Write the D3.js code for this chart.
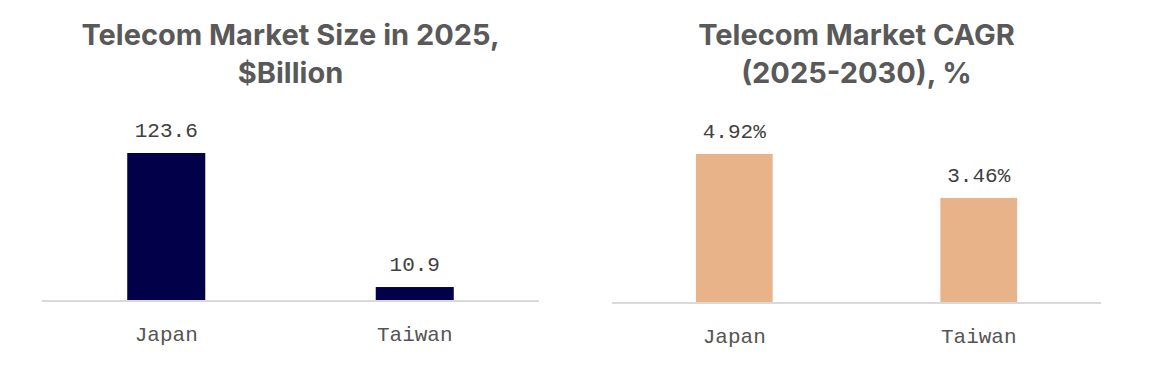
<!DOCTYPE html>
<html>
<head>
<meta charset="utf-8">
<script src="https://cdn.jsdelivr.net/npm/d3@7"></script>
<style>
  body { margin: 0; background: #fff; }
  svg { display: block; }
</style>
</head>
<body>
<svg width="1150" height="374"></svg>
<script>
// data
const countries = ["Japan", "Taiwan"];
const marketSize = [123.6, 10.9];
const cagr = [4.92, 3.46];

const svg = d3.select("svg");

function drawPanel(opts) {
  const g = svg.append("g");

  const x = d3.scaleBand()
    .domain(countries)
    .range([opts.x0, opts.x1])
    .paddingInner(0.686)
    .paddingOuter(0.343);

  const y = d3.scaleLinear()
    .domain([0, d3.max(opts.values)])
    .range([opts.base, opts.top]);

  const rows = countries.map((c, i) => ({ c: c, v: opts.values[i] }));

  // title
  const cx = (opts.x0 + opts.x1) / 2;
  g.selectAll(".title")
    .data(opts.title)
    .join("text")
    .attr("x", cx)
    .attr("y", (d, i) => 45 + i * 38)
    .attr("text-anchor", "middle")
    .attr("font-family", "Inter, 'Noto Sans', sans-serif")
    .attr("font-weight", 700)
    .attr("font-size", 29)
    .attr("fill", "#595959")
    .text(d => d);

  g.selectAll("rect")
    .data(rows)
    .join("rect")
    .attr("x", d => x(d.c))
    .attr("width", x.bandwidth())
    .attr("y", d => y(d.v))
    .attr("height", d => y(0) - y(d.v))
    .attr("fill", opts.color);

  // baseline
  g.append("line")
    .attr("x1", opts.x0)
    .attr("x2", opts.x1)
    .attr("y1", opts.base + 1)
    .attr("y2", opts.base + 1)
    .attr("stroke", "#d9d9d9")
    .attr("stroke-width", 2);

  g.selectAll(".val")
    .data(rows)
    .join("text")
    .attr("class", "val")
    .attr("x", d => x(d.c) + x.bandwidth() / 2)
    .attr("y", d => y(d.v) - 16)
    .attr("text-anchor", "middle")
    .attr("font-family", "'Liberation Mono', 'DejaVu Sans Mono', monospace")
    .attr("font-size", 21)
    .attr("fill", "#404040")
    .text(d => opts.fmt(d.v));

  g.selectAll(".cat")
    .data(rows)
    .join("text")
    .attr("class", "cat")
    .attr("x", d => x(d.c) + x.bandwidth() / 2)
    .attr("y", opts.base + 41)
    .attr("text-anchor", "middle")
    .attr("font-family", "'Liberation Mono', 'DejaVu Sans Mono', monospace")
    .attr("font-size", 21)
    .attr("fill", "#555555")
    .text(d => d.c);
}

drawPanel({
  title: ["Telecom Market Size in 2025,", "$Billion"],
  values: marketSize,
  fmt: v => v.toFixed(1),
  color: "#03004a",
  x0: 42, x1: 539, base: 300, top: 153
});

drawPanel({
  title: ["Telecom Market CAGR", "(2025-2030), %"],
  values: cagr,
  fmt: v => v.toFixed(2) + "%",
  color: "#e8b389",
  x0: 612, x1: 1101, base: 302, top: 154
});
</script>
</body>
</html>
